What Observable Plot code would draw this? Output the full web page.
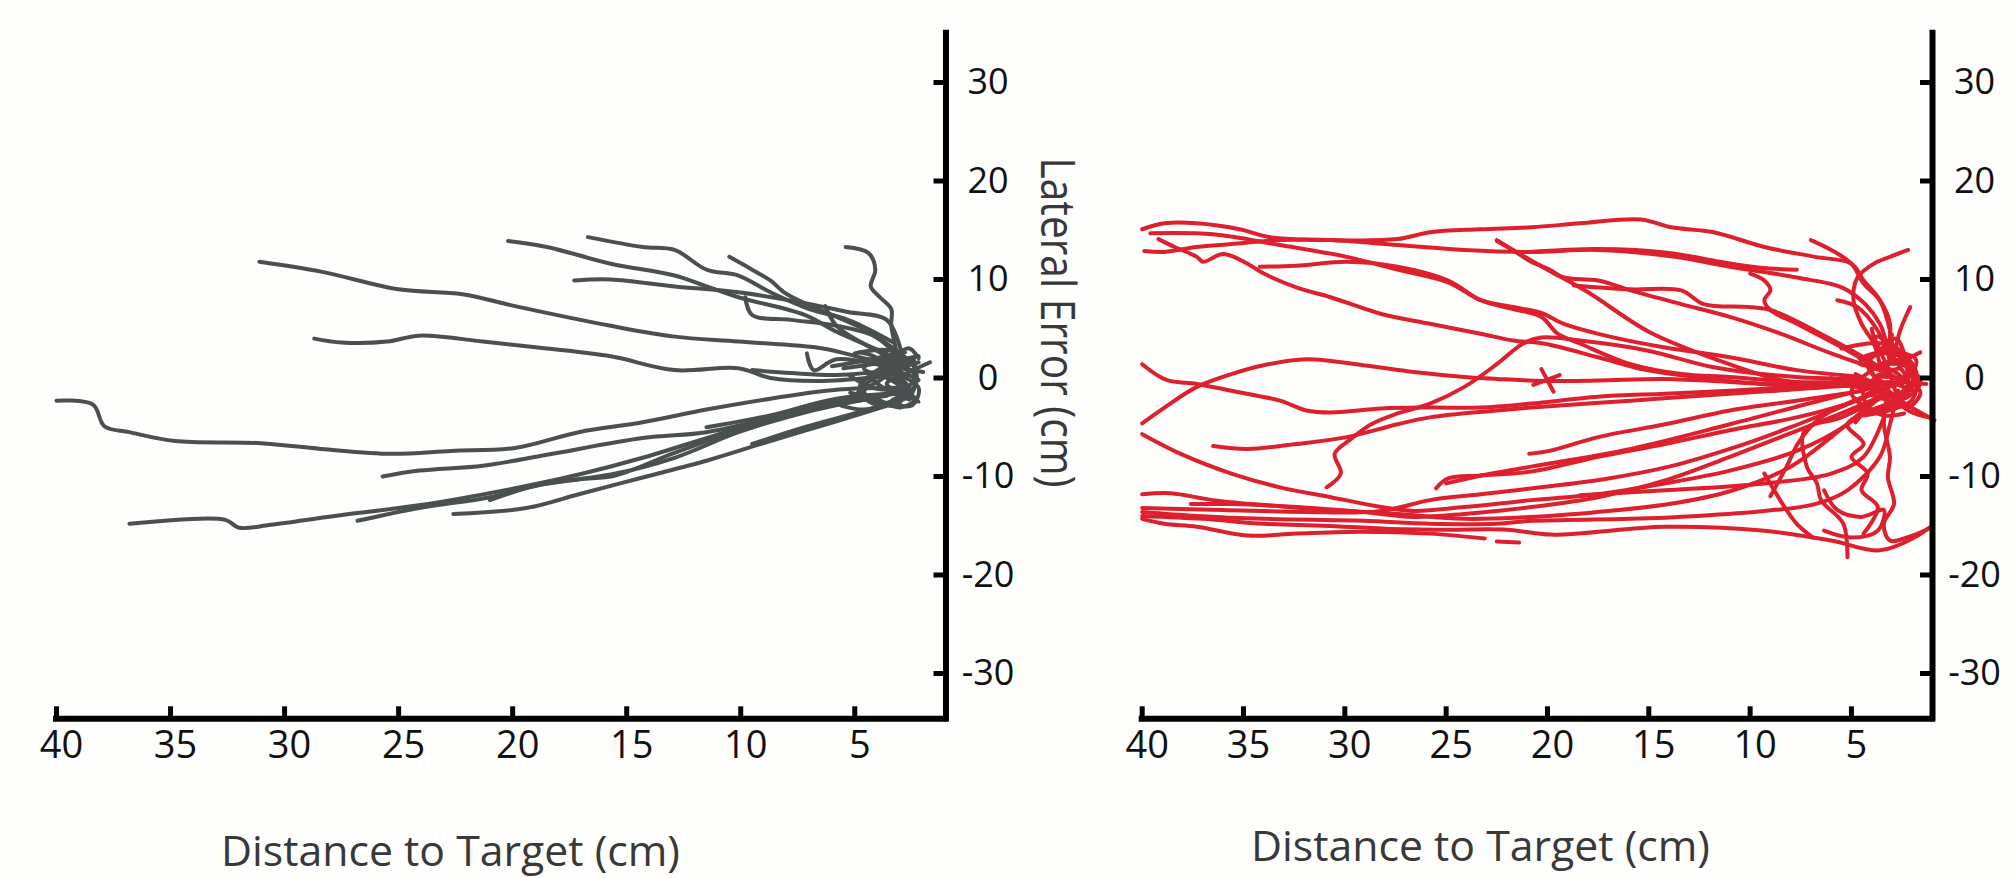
<!DOCTYPE html>
<html><head><meta charset="utf-8">
<script src="https://cdn.jsdelivr.net/npm/d3@7"></script>
<script src="https://cdn.jsdelivr.net/npm/@observablehq/plot@0.6"></script>
<style>
html,body{margin:0;padding:0;background:#fefefc;}
#wrap{position:relative;width:2016px;height:878px;overflow:hidden;background:#fefefc;}
#left{position:absolute;left:0;top:0;}
#right{position:absolute;left:1100px;top:0;}
</style></head>
<body><div id="wrap"><div id="left"></div><div id="right"></div></div>
<script>
// ---- axes / labels ----
const xTicks = [40, 35, 30, 25, 20, 15, 10, 5];
const yTicks = [30, 20, 10, 0, -10, -20, -30];
const xDomain = [40, 1];
const yDomain = [-34.6, 35];
const xTitle = "Distance to Target (cm)";
const yTitle = "Lateral Error (cm)";

// ---- left panel: gray trajectories [distance, lateral error] ----
const grayTrials = [
  [[31.1,11.8],[28.4,10.8],[25.0,9.0],[22.2,8.5],[19.9,7.3],[15.7,5.3],[12.9,4.2],[10.1,3.7],[6.4,3.0],[4.4,1.9],[3.0,1.3]],
  [[28.7,4.0],[27.5,3.6],[25.5,3.7],[24.1,4.3],[21.3,3.7],[18.5,3.0],[15.7,2.2],[12.9,0.8],[10.1,1.0],[8.7,0.0],[6.4,-0.3],[3.6,0.2]],
  [[20.2,13.9],[18.5,13.3],[15.7,11.6],[12.9,10.4],[11.5,9.3],[10.1,8.2],[7.2,6.4],[5.8,4.7],[3.6,2.5]],
  [[16.7,14.3],[14.3,13.3],[12.9,13.0],[11.5,11.0],[10.1,10.4],[8.7,8.7],[7.0,7.0],[5.3,5.9],[3.3,3.6]],
  [[17.3,9.9],[15.7,10.0],[12.9,9.3],[10.1,8.7],[7.2,7.6],[5.3,6.7],[3.6,5.9],[3.0,3.0]],
  [[10.5,12.3],[9.5,11.0],[8.7,9.9],[8.1,8.7],[7.2,7.6],[5.8,6.2],[4.4,4.7],[3.0,2.5]],
  [[9.8,8.2],[9.5,6.4],[7.8,5.9],[5.8,5.3],[4.1,4.2],[3.0,1.9]],
  [[5.4,13.3],[4.4,12.7],[4.1,11.0],[4.3,9.3],[3.9,8.2],[3.4,7.0],[3.4,5.3],[3.2,3.0],[3.0,0.8]],
  [[7.1,2.5],[6.8,0.8],[5.8,1.9],[3.0,0.8]],
  [[6.3,7.3],[5.8,5.3],[4.7,3.6],[3.3,1.9]],
  [[9.5,0.8],[7.8,0.5],[5.8,0.3],[3.6,0.8],[2.2,1.6]],
  [[40.0,-2.3],[38.4,-2.7],[37.9,-4.9],[36.8,-5.5],[34.8,-6.4],[31.2,-6.6],[28.4,-7.2],[25.3,-7.7],[22.7,-7.4],[19.9,-7.1],[17.1,-5.5],[14.3,-4.5],[11.5,-3.2],[8.7,-2.1],[5.8,-1.2],[3.0,-1.0]],
  [[36.8,-14.8],[32.6,-14.4],[32.0,-15.2],[30.6,-14.9],[27.8,-14.0],[25.0,-13.2],[22.7,-12.4],[19.9,-11.2],[17.1,-9.8],[14.3,-8.1],[11.5,-6.1],[8.7,-4.1],[5.8,-2.4],[3.0,-1.5]],
  [[26.8,-14.5],[24.1,-13.2],[21.0,-12.1],[18.5,-10.7],[15.7,-9.8],[12.9,-8.1],[10.1,-5.5],[7.2,-3.5],[4.4,-2.1]],
  [[25.7,-10.0],[24.1,-9.4],[21.3,-8.9],[18.5,-7.8],[14.3,-6.1],[11.5,-5.5],[8.7,-4.1],[5.8,-2.7],[3.0,-1.5]],
  [[22.6,-13.8],[19.4,-13.2],[17.1,-11.8],[14.3,-10.1],[11.5,-8.4],[8.7,-6.4],[5.8,-4.4],[3.0,-2.4]],
  [[21.0,-12.4],[19.1,-11.0],[17.1,-10.3],[15.5,-9.9],[12.9,-7.6],[10.1,-5.3],[7.2,-3.2],[3.6,-1.8]],
  [[9.5,-6.7],[7.2,-5.0],[4.4,-3.2],[3.0,-2.1]],
  [[11.5,-5.0],[8.7,-3.8],[5.8,-2.1],[2.5,-1.5]],
  [[5.0,2.5],[3.5,2.8],[2.5,1.5],[2.3,-0.5],[3.0,-2.0],[4.2,-2.6],[4.8,-1.0],[4.0,0.8],[3.0,1.8],[2.2,2.2]],
  [[4.5,0.5],[3.2,0.2],[2.6,-1.2],[3.4,-2.4],[2.5,-2.8],[2.2,-1.0],[3.5,1.0],[2.0,0.6]],
  [[5.2,-1.5],[4.0,-2.2],[3.0,-3.0],[2.4,-2.2],[3.6,-0.6],[2.8,0.4],[1.7,1.6]],
  [[6.0,1.2],[4.5,1.8],[3.2,2.5],[2.6,3.0],[2.2,2.0]],
  [[5.5,1.0],[4.0,1.5],[3.0,2.0],[2.3,1.0],[2.6,-0.8],[3.8,-1.8],[5.0,-2.2],[4.4,-0.4],[3.2,0.6],[2.2,-0.2]],
  [[5.6,-2.8],[4.6,-3.2],[3.4,-2.6],[2.5,-1.6],[2.4,0.4],[3.0,1.2],[4.2,0.0],[3.6,-1.2],[2.6,-2.2]],
  [[4.8,2.6],[4.0,2.0],[3.6,0.4],[4.6,-1.4],[3.2,-2.8],[2.8,-0.8],[4.0,0.6],[2.4,1.8]],
  [[5.2,0.2],[4.2,-1.0],[3.0,-1.4],[2.2,-2.4],[3.4,-0.2],[4.6,1.0],[2.8,2.6]]
];

// ---- right panel: red trajectories [distance, lateral error] ----
const redTrials = [
  [[40.0,15.1],[38.9,15.7],[37.3,15.7],[35.2,15.1],[33.7,14.3],[30.7,14.0],[27.4,14.1],[25.8,14.8],[23.3,15.1],[20.8,15.3],[18.4,15.7],[15.4,16.1],[13.9,15.3],[11.8,14.8],[9.3,13.3],[6.8,12.3],[5.0,11.6],[4.4,9.9],[3.6,7.9],[3.1,4.8],[2.9,1.4]],
  [[39.9,12.9],[38.9,12.8],[37.3,13.3],[35.6,13.6],[33.2,14.0],[30.7,14.0],[27.4,13.5],[24.1,13.0],[20.8,12.8],[17.5,13.0],[13.7,12.3],[11.0,11.3],[7.7,10.2],[5.2,8.9],[3.6,5.5],[3.1,1.4]],
  [[39.2,14.1],[38.4,13.3],[37.3,12.3],[37.0,11.8],[36.0,12.6],[34.8,11.6],[34.0,10.6],[32.4,9.2],[30.7,8.2],[28.2,6.5],[25.8,5.5],[23.3,4.5],[21.7,3.8],[20.2,3.5],[17.5,2.1],[15.1,0.8],[12.6,0.1],[9.3,-0.6],[6.0,-0.6],[3.6,-0.3]],
  [[34.2,11.3],[32.4,11.4],[29.9,11.8],[27.4,11.3],[24.9,9.9],[23.3,7.9],[21.7,7.0],[20.3,6.2],[19.5,4.5],[18.4,3.5],[15.9,1.4],[13.4,0.4],[11.0,0.1],[7.7,-0.4],[4.4,-0.4]],
  [[39.6,14.7],[36.5,14.6],[33.2,13.5],[29.9,12.3],[27.4,11.0],[24.9,9.7],[23.3,7.9],[21.7,7.2],[20.3,6.6],[19.2,5.5],[16.7,4.1],[14.2,3.1],[11.0,2.1],[7.7,0.8],[4.4,0.1]],
  [[22.5,14.0],[21.7,13.0],[20.8,11.8],[19.9,11.0],[19.2,10.2],[17.5,9.9],[15.9,8.9],[13.4,7.5],[11.0,6.2],[8.5,4.5],[6.0,2.5],[3.6,0.8]],
  [[40.0,1.4],[38.8,-0.2],[37.3,-0.6],[35.6,-1.3],[33.2,-2.3],[31.9,-3.3],[30.7,-3.5],[28.2,-3.1],[25.8,-3.0],[23.3,-3.0],[20.8,-2.6],[17.5,-1.9],[14.2,-1.6],[11.0,-1.3],[7.7,-0.9],[4.4,-0.6]],
  [[40.0,-4.6],[38.9,-3.0],[37.3,-0.9],[35.6,0.4],[34.0,1.3],[31.9,1.9],[29.1,1.3],[26.6,0.6],[24.1,0.1],[22.5,-0.1],[20.2,-0.3],[17.5,-0.25],[14.2,-0.1],[11.0,-0.4],[7.7,-0.8],[4.4,-0.6]],
  [[40.0,-5.7],[38.1,-7.7],[35.6,-9.7],[33.2,-11.1],[30.7,-12.1],[28.2,-13.1],[26.6,-13.5],[24.1,-13.1],[20.8,-12.4],[17.5,-11.8],[14.2,-10.7],[11.0,-9.4],[7.7,-7.4],[5.2,-4.7],[3.6,-1.9]],
  [[36.5,-6.9],[34.8,-7.2],[32.4,-6.7],[29.9,-6.0],[27.4,-4.7],[25.8,-4.0],[22.5,-3.3],[20.8,-3.0],[15.9,-2.3],[11.0,-1.6],[6.0,-0.9],[3.6,-0.4]],
  [[30.9,-11.1],[30.2,-9.7],[30.5,-7.7],[29.7,-6.2],[28.7,-4.7],[27.4,-3.6],[25.8,-2.6],[24.1,-0.9],[22.5,1.4],[21.2,3.5],[20.3,4.1],[18.4,3.8],[15.1,2.8],[11.8,1.1],[7.7,0.1],[4.4,-0.1]],
  [[25.5,-11.2],[24.9,-10.2],[23.3,-9.9],[20.8,-9.5],[17.5,-8.0],[14.2,-6.7],[11.0,-5.3],[7.7,-4.0],[5.2,-2.6],[3.6,-1.3]],
  [[20.9,-7.7],[19.9,-7.4],[17.5,-6.0],[14.2,-4.7],[11.0,-3.3],[7.7,-2.3],[4.4,-1.3]],
  [[40.0,-11.8],[38.6,-11.7],[36.5,-12.4],[34.0,-12.9],[30.7,-13.4],[27.4,-13.8],[24.1,-14.3],[19.9,-14.0],[17.0,-13.5],[14.0,-12.8],[11.0,-11.5],[8.0,-9.0],[6.0,-6.0],[4.0,-2.5],[3.0,-0.5]],
  [[40.0,-14.0],[37.0,-14.3],[34.0,-14.8],[31.0,-15.0],[28.0,-15.3],[25.0,-15.4],[22.0,-15.4],[19.8,-15.9],[14.2,-15.1],[9.3,-15.5],[6.0,-16.5],[3.6,-17.5],[1.9,-16.2],[1.1,-15.1]],
  [[40.0,-14.3],[38.9,-14.8],[37.3,-15.1],[34.8,-16.0],[32.4,-15.8],[29.1,-15.6],[25.8,-15.8],[23.1,-16.3]],
  [[22.5,-16.6],[21.4,-16.7]],
  [[40.0,-13.6],[37.3,-14.0],[34.0,-14.3],[29.1,-14.5],[25.8,-14.8],[22.5,-14.8],[20.8,-14.5],[15.9,-14.3],[12.6,-14.0],[9.3,-13.5],[6.8,-12.8],[5.2,-11.4],[3.6,-8.0],[3.1,-4.7],[2.7,-1.3]],
  [[37.6,-12.8],[35.6,-12.8],[32.4,-13.1],[29.1,-13.6],[26.6,-14.1],[24.1,-13.8],[20.8,-13.1],[17.5,-12.1],[14.2,-10.4],[11.0,-8.0],[8.5,-6.0],[6.0,-4.0],[3.6,-1.9]],
  [[40.0,-13.2],[36.0,-13.4],[32.0,-13.6],[28.2,-13.5],[25.8,-12.4],[23.3,-11.8],[19.9,-11.0],[17.0,-10.2],[14.0,-9.0],[11.0,-7.2],[8.0,-5.0],[5.0,-2.5],[3.0,-0.8]],
  [[22.5,13.9],[20.0,11.0],[18.0,8.7],[15.0,4.7],[11.7,1.9],[8.5,-0.2],[5.4,-0.8],[3.0,-0.5]],
  [[20.9,12.8],[17.5,13.1],[14.0,12.7],[11.5,11.8],[9.5,11.2],[7.7,11.0]],
  [[18.7,9.4],[15.9,9.0],[13.4,8.9],[12.3,7.5],[10.1,7.2],[9.0,6.9],[6.8,4.8],[4.4,2.1],[3.1,0.4]],
  [[18.4,-11.9],[14.2,-11.4],[9.3,-10.7],[6.0,-9.7],[4.4,-8.0],[3.4,-4.0]],
  [[25.0,-10.7],[23.0,-9.8],[20.8,-9.0],[15.9,-7.2],[11.0,-4.7],[6.0,-2.0],[3.5,-0.8]],
  [[7.0,14.0],[6.0,13.0],[5.0,11.6],[4.4,9.6],[3.6,7.9],[3.1,5.5],[3.2,2.8]],
  [[2.2,13.0],[3.1,12.3],[3.9,11.6],[4.7,10.2],[4.9,7.9],[4.5,5.5],[3.9,3.5],[3.6,1.4]],
  [[2.1,7.2],[2.6,4.8],[2.9,2.1]],
  [[5.7,7.9],[4.7,7.2],[3.7,4.8],[3.2,2.5]],
  [[10.0,10.6],[9.3,9.9],[9.0,8.9],[9.3,7.9],[9.0,6.9],[7.7,5.5],[5.2,2.8],[3.6,0.8]],
  [[3.5,-2.0],[5.5,-4.0],[7.3,-5.3],[7.2,-9.0],[6.7,-10.7],[6.5,-12.4],[5.4,-14.8],[5.2,-18.2]],
  [[3.2,-1.5],[3.4,-4.6],[3.1,-8.0],[3.2,-10.1],[2.9,-12.8],[3.4,-14.8],[3.1,-16.5],[2.0,-16.0],[1.1,-15.2]],
  [[3.0,-2.5],[5.2,-4.7],[4.4,-6.7],[5.0,-8.0],[4.2,-9.7],[4.5,-11.4],[3.7,-13.1],[4.4,-15.8]],
  [[6.35,-11.4],[5.7,-13.4],[4.5,-14.1],[3.4,-13.4],[3.7,-15.5],[5.0,-16.2],[6.35,-15.5]],
  [[9.3,-9.7],[8.3,-13.1],[7.7,-14.8],[6.9,-16.2]],
  [[9.0,-12.0],[8.2,-9.0],[7.6,-6.5],[6.5,-4.0],[4.5,-2.0]],
  [[5.5,3.0],[3.5,3.5],[2.5,2.0],[2.2,-0.5],[2.8,-2.5],[4.0,-3.2],[5.0,-1.5],[4.2,0.5],[3.0,1.5],[2.0,1.0]],
  [[4.8,-4.5],[3.6,-2.0],[2.4,-1.5],[1.8,0.5],[2.6,2.8],[3.8,4.2],[3.2,1.0],[2.4,-3.0],[1.2,-4.0]],
  [[6.0,0.0],[4.5,-1.0],[3.2,-0.4],[2.0,-1.2],[3.0,0.8],[4.6,1.5],[3.4,2.6],[2.3,0.2]],
  [[4.0,5.0],[3.6,3.0],[2.8,4.0],[2.2,1.5],[1.6,-0.5],[2.6,-2.2],[3.8,-1.0]],
  [[4.6,2.0],[3.4,2.6],[2.2,1.6],[2.0,-0.6],[2.8,-2.6],[4.0,-3.4],[4.4,-1.2],[3.2,0.4],[2.4,-1.2],[3.6,-2.0]],
  [[4.4,-3.8],[3.0,-3.2],[2.0,-2.2],[1.8,0.0],[2.6,1.8],[4.0,0.8],[3.0,-0.8],[2.2,0.6]],
  [[4.8,0.4],[3.6,-0.6],[2.6,-0.2],[2.0,1.2],[3.2,2.8],[4.2,1.4],[3.0,-1.6],[1.9,-3.2]],
  [[3.8,2.4],[2.6,2.6],[1.8,1.8],[2.4,-0.4],[3.6,-1.0],[4.6,-2.4],[3.4,-3.8],[2.4,-3.6]],
  [[4.2,-1.6],[3.0,-2.4],[2.2,-3.0],[1.6,-1.4],[2.8,0.0],[3.8,0.2],[2.6,1.0]],
  [[2.4,-2.6],[0.9,-4.3]],
  [[2.4,-0.4],[1.3,-0.6]],
  [[2.6,1.6],[1.6,2.6]],
  [[3.2,2.6],[3.0,4.4]],
  [[20.3,0.9],[19.7,-1.4]],
  [[20.7,-0.7],[19.4,0.3]]
];

function rows(trials) {
  return trials.flatMap((pts, i) => pts.map(([x, y]) => ({trial: i, x, y})));
}

function panel({trials, color, width, marginLeft, marginRight, showYTitle, titleDx, titleDy}) {
  const marks = [
    Plot.line(rows(trials), {x: "x", y: "y", z: "trial", stroke: color, strokeWidth: 4,
      curve: "catmull-rom", strokeLinejoin: "round", strokeLinecap: "round"}),
    Plot.ruleY([yDomain[0]], {x1: xDomain[0], x2: xDomain[1], stroke: "#000", strokeWidth: 6, strokeLinecap: "square"}),
    Plot.ruleX([xDomain[1]], {y1: yDomain[0], y2: yDomain[1], stroke: "#000", strokeWidth: 6, strokeLinecap: "square"}),
    Plot.axisX({ticks: xTicks, tickSize: -12, stroke: "#000", strokeWidth: 5, fill: "none", label: null}),
    Plot.axisX({ticks: xTicks, tickSize: 0, tickPadding: 12, dx: 5, fontSize: 38, fontWeight: 500,
      fill: "#111", label: null, tickFormat: d => String(d)}),
    Plot.axisY({anchor: "right", ticks: yTicks, tickSize: -13, stroke: "#000", strokeWidth: 5, fill: "none", label: null}),
    Plot.axisY({anchor: "right", ticks: yTicks, tickSize: 0, tickPadding: 42, textAnchor: "middle",
      fontSize: 36, fontWeight: 500, fill: "#111", label: null, tickFormat: d => String(d)}),
    Plot.text([xTitle], {text: d => d, frameAnchor: "bottom", textAnchor: "middle", lineAnchor: "middle",
      dx: titleDx, dy: titleDy, fontSize: 42, fill: "#383838"})
  ];
  if (showYTitle) {
    marks.push(Plot.text([yTitle], {text: d => d, frameAnchor: "right", textAnchor: "middle", lineAnchor: "middle",
      rotate: 90, dx: 110.5, dy: -53.5, fontSize: 47, fill: "#383838"}));
  }
  const svg = Plot.plot({
    width, height: 878,
    marginLeft, marginRight, marginTop: 32.75, marginBottom: 159.7,
    x: {domain: xDomain},
    y: {domain: yDomain},
    style: {fontFamily: "'Open Sans', sans-serif", background: "transparent", overflow: "visible"},
    marks
  });
  d3.select(svg).selectAll('g[aria-label="text"] text').each(function () {
    const t = this.textContent;
    if (t === xTitle) d3.select(this).attr("textLength", 459).attr("lengthAdjust", "spacingAndGlyphs");
    if (t === yTitle) d3.select(this).attr("textLength", 330).attr("lengthAdjust", "spacingAndGlyphs");
  });
  return svg;
}

document.getElementById("left").append(panel({
  trials: grayTrials, color: "#4a4f4f", width: 1100, marginLeft: 56, marginRight: 154.5,
  showYTitle: true, titleDx: -50.75, titleDy: 133.5
}));
document.getElementById("right").append(panel({
  trials: redTrials, color: "#dd1f2e", width: 916, marginLeft: 41.7, marginRight: 84,
  showYTitle: false, titleDx: -56.85, titleDy: 129
}));
</script>
</body></html>
